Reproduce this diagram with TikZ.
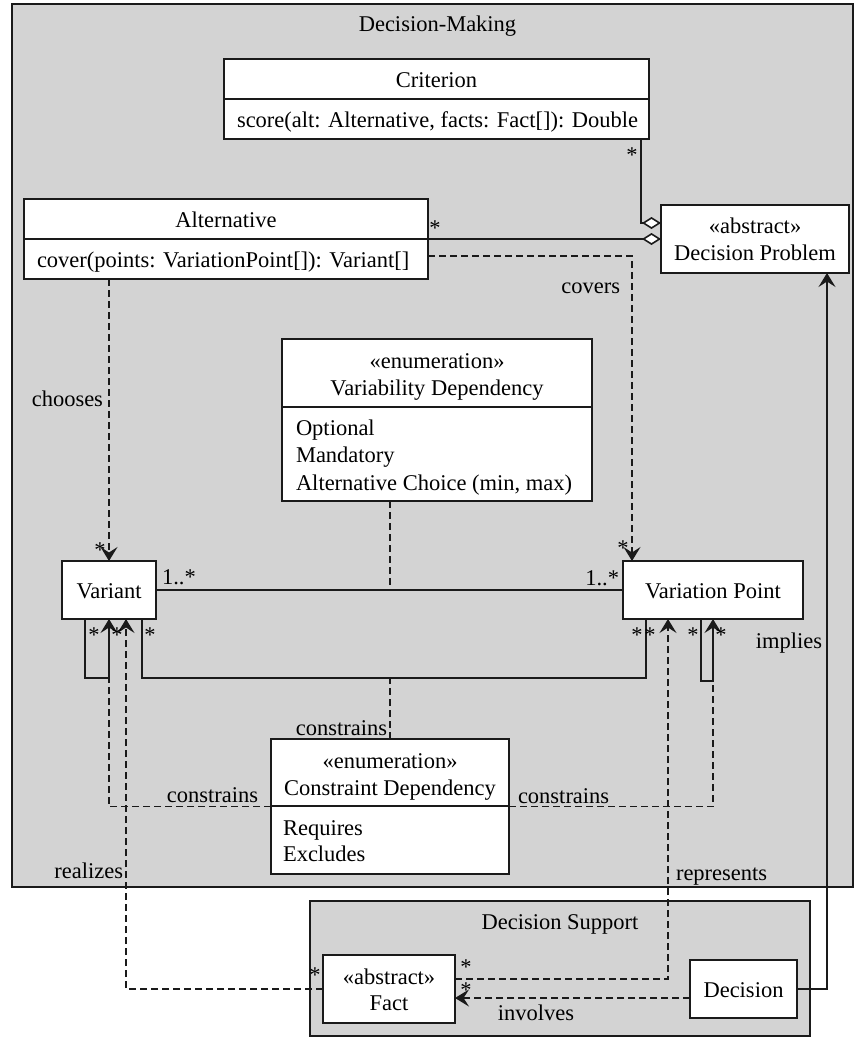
\documentclass[tikz,border=0pt]{standalone}
\usepackage{fontspec}
\setmainfont{Liberation Serif}
\usetikzlibrary{arrows.meta,calc}
\definecolor{pkgfill}{HTML}{D3D3D3}
\definecolor{ink}{HTML}{1A1A1A}
\begin{document}
\begin{tikzpicture}[x=1pt,y=-1pt,
  every node/.style={font=\fontsize{22.5pt}{27pt}\selectfont, inner sep=0pt, outer sep=0pt, text=black},
  frame/.style={draw=ink, line width=1.6pt, fill=pkgfill, anchor=north west, rectangle},
  classbox/.style={draw=ink, line width=1.6pt, fill=white, anchor=north west, rectangle},
  lbl/.style={anchor=base},
  lblw/.style={anchor=base west},
  lble/.style={anchor=base east},
  mult/.style={anchor=base},
  assoc/.style={draw=ink, line width=1.6pt},
  dep/.style={draw=ink, line width=1.6pt, dash pattern=on 7pt off 4pt},
  open arrow/.style={-{Stealth[length=14pt,width=17pt,inset=5.5pt]}},
  agg/.style={-{Diamond[length=19pt,width=12pt,fill=white,line width=1.6pt]}}
]
\useasboundingbox (0,0) rectangle (854,1049);

% packages
\node[frame, minimum width=841pt, minimum height=883pt] (dm) at (12,4) {};
\node[frame, minimum width=500pt, minimum height=135pt] (ds) at (310,901) {};
\node[lbl] (dmtitle) at (437.5,32) {Decision-Making};
\node[lbl] (dstitle) at (560,929) {Decision Support};

% Criterion
\node[classbox, minimum width=425pt, minimum height=80pt] (crit) at (224,59) {};
\draw[assoc] ([yshift=-40pt]crit.north west) -- ([yshift=-40pt]crit.north east);
\node[lbl] (critname) at (436.5,87) {Criterion};
\node[lblw] (critop) at (237,127) {score(alt: Alternative, facts: Fact[]): Double};

% Alternative
\node[classbox, minimum width=404pt, minimum height=80pt] (alt) at (24,199) {};
\draw[assoc] ([yshift=-40pt]alt.north west) -- ([yshift=-40pt]alt.north east);
\node[lbl] (altname) at (226,227) {Alternative};
\node[lblw] (altop) at (37,267) {cover(points: VariationPoint[]): Variant[]};

% Decision Problem
\node[classbox, minimum width=188pt, minimum height=68pt] (dp) at (661,205) {};
\node[lbl] (dpst) at (755,233) {«abstract»};
\node[lbl] (dpname) at (755,260) {Decision Problem};

% Variability Dependency
\node[classbox, minimum width=310pt, minimum height=162pt] (vd) at (282,339) {};
\draw[assoc] ([yshift=-68pt]vd.north west) -- ([yshift=-68pt]vd.north east);
\node[lbl] (vdst) at (437,368) {«enumeration»};
\node[lbl] (vdname) at (437,395) {Variability Dependency};
\node[lblw] (vdopt) at (296,435) {Optional};
\node[lblw] (vdman) at (296,462) {Mandatory};
\node[lblw] (vdalt) at (296,490) {Alternative Choice (min, max)};

% Variant and Variation Point
\node[classbox, minimum width=94pt, minimum height=58pt] (var) at (62,561) {};
\node[lbl] (varname) at (109,598) {Variant};
\node[classbox, minimum width=180pt, minimum height=58pt] (vp) at (623,561) {};
\node[lbl] (vpname) at (713,598) {Variation Point};

% Constraint Dependency
\node[classbox, minimum width=238pt, minimum height=135pt] (cd) at (271,739) {};
\draw[assoc] ([yshift=-67pt]cd.north west) -- ([yshift=-67pt]cd.north east);
\node[lbl] (cdst) at (390,768) {«enumeration»};
\node[lbl] (cdname) at (390,795) {Constraint Dependency};
\node[lblw] (cdreq) at (283,835) {Requires};
\node[lblw] (cdexc) at (283,861) {Excludes};

% Fact and Decision
\node[classbox, minimum width=132pt, minimum height=68pt] (fact) at (323,955) {};
\node[lbl] (factst) at (389,984) {«abstract»};
\node[lbl] (factname) at (389,1010) {Fact};
\node[classbox, minimum width=107pt, minimum height=58pt] (dec) at (690,960) {};
\node[lbl] (decname) at (743.5,997) {Decision};

% aggregations into Decision Problem
\draw[assoc, agg] ([xshift=-8pt]crit.south east) |- ([yshift=16pt]dp.west);
\draw[assoc, agg] (alt.east) -- (alt.east -| dp.west);

% chooses / covers
\draw[dep, open arrow] ([yshift=-17pt]alt.east) -| ([xshift=9pt]vp.north west);
\draw[dep, open arrow] (alt.south -| var.north) -- (var.north);

% Variant -- Variation Point with association class
\draw[assoc] (var.east) -- (vp.west);
\draw[dep] (cd.north |- vd.south) -- (cd.north |- var.east);

% constraint associations
\draw[assoc] ([xshift=-14pt]var.south east) -- ++(0,59) coordinate (loopmid) -| ([xshift=23pt]vp.south west);
\draw[dep] (cd.north) -- (cd.north |- loopmid);
\draw[assoc, open arrow] ([xshift=-24pt]var.south) -- ++(0,59) coordinate (varloop) -| (var.south);
\draw[dep] (cd.west) -| (var.south |- varloop);
\draw[assoc, open arrow] ([xshift=-12pt]vp.south) -- ++(0,62) coordinate (vploop) -| (vp.south);
\draw[dep] (cd.east) -| (vp.south |- vploop);

% Decision Support links
\draw[dep, open arrow] (fact.west) -| ([xshift=17pt]var.south);
\draw[dep, open arrow] ([yshift=10pt]fact.east) -| ([xshift=45pt]vp.south west);
\draw[dep, open arrow] ([yshift=-9pt]dec.west) -- ([yshift=-9pt]fact.east);
\draw[assoc, open arrow] (dec.east) -| ([xshift=-22pt]dp.south east);

% connector labels
\node[lble] (lchooses) at (103,406) {chooses};
\node[lble] (lcovers) at (620,293) {covers};
\node[lble] (limplies) at (822,648) {implies};
\node[lble] (lconsmid) at (387,735) {constrains};
\node[lble] (lconsleft) at (258,802) {constrains};
\node[lblw] (lconsright) at (518,803) {constrains};
\node[lble] (lrealizes) at (123,878) {realizes};
\node[lblw] (lrepresents) at (676,880) {represents};
\node[lbl] (linvolves) at (536,1020) {involves};

% multiplicities
\node[lblw] (m1) at (162,584) {1..*};
\node[lble] (m2) at (619,585) {1..*};
\node[mult] (s1) at (632,162) {*};
\node[mult] (s2) at (435,235) {*};
\node[mult] (s3) at (100,557) {*};
\node[mult] (s4) at (623,555) {*};
\node[mult] (s5) at (94,642) {*};
\node[mult] (s6) at (117,642) {*};
\node[mult] (s7) at (150,642) {*};
\node[mult] (s8) at (637,642) {*};
\node[mult] (s9) at (650,642) {*};
\node[mult] (s10) at (693,642) {*};
\node[mult] (s11) at (721,642) {*};
\node[mult] (s12) at (315,982) {*};
\node[mult] (s13) at (466,974) {*};
\node[mult] (s14) at (466,997) {*};
\end{tikzpicture}
\end{document}
